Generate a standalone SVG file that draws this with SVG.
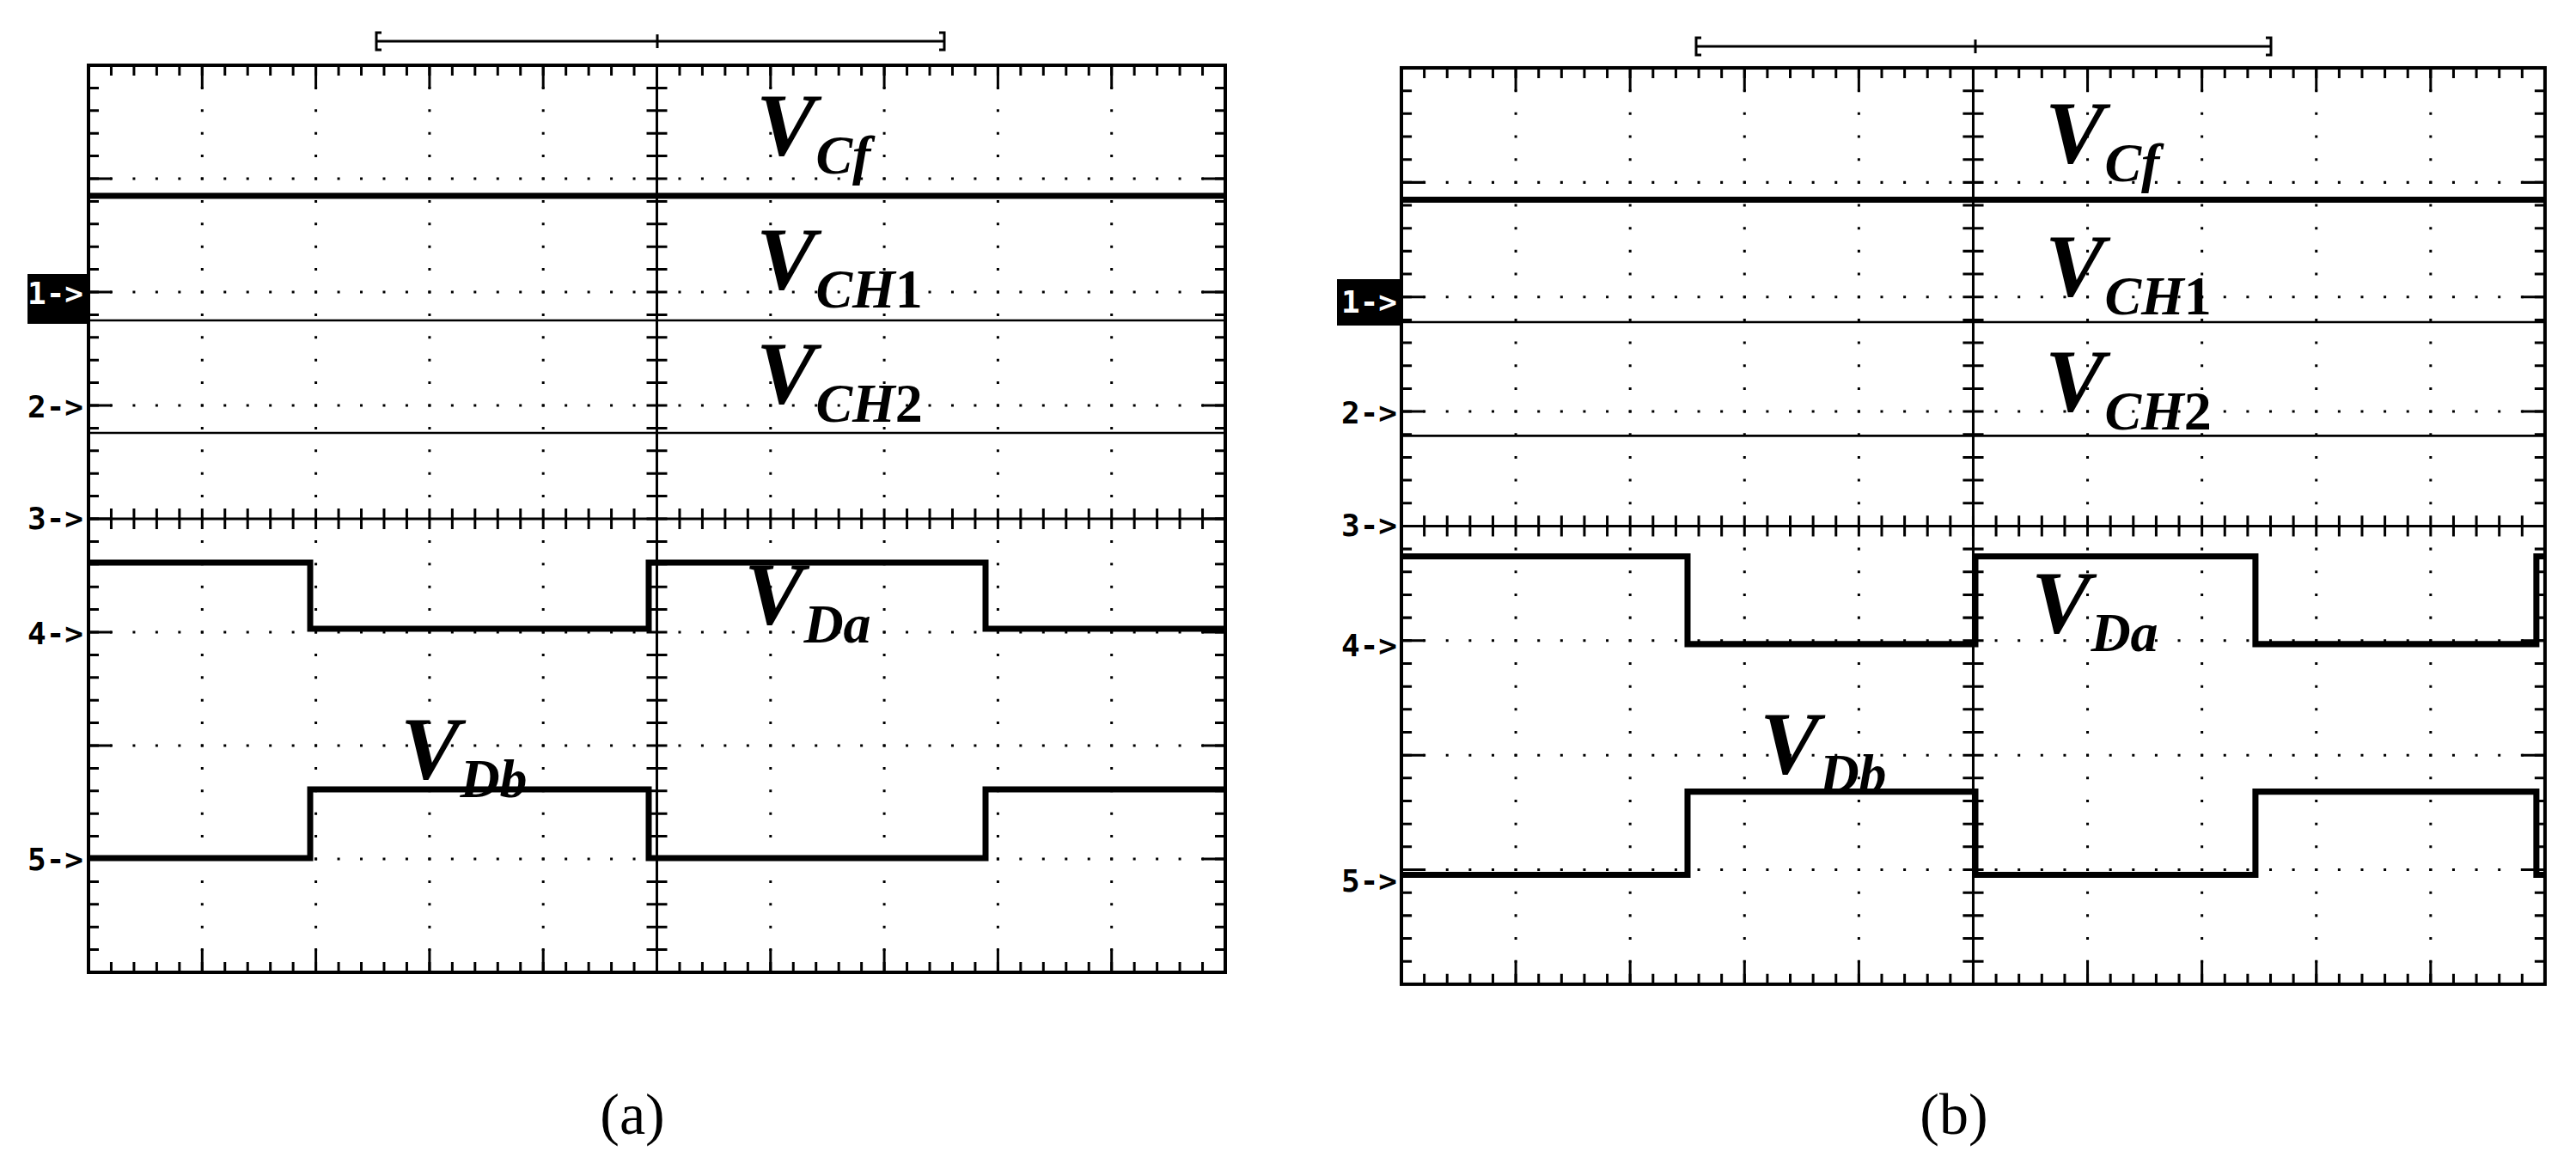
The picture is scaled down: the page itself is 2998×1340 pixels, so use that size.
<svg xmlns="http://www.w3.org/2000/svg" width="2998" height="1340" viewBox="0 0 2998 1340">
<style>
.bg{fill:#fff}
.frame{fill:none;stroke:#000;stroke-width:4}
.tk{stroke:#000;stroke-dasharray:3 23.46;stroke-dashoffset:1.5;fill:none}
.tkv{stroke:#000;stroke-dasharray:3 23.4;stroke-dashoffset:1.5;fill:none}
.mj{stroke:#000;stroke-dasharray:3 129.3;stroke-dashoffset:1.5;fill:none}
.mjv{stroke:#000;stroke-dasharray:3 129;stroke-dashoffset:1.5;fill:none}
.ax{stroke:#000;stroke-width:3}
.dot{stroke:#000;stroke-width:3;stroke-dasharray:3 23.4;stroke-dashoffset:1.5}
.doth{stroke:#000;stroke-width:3;stroke-dasharray:3 23.46;stroke-dashoffset:1.5}
.thick{fill:none;stroke:#000;stroke-width:7}
.thin{fill:none;stroke:#000;stroke-width:2.5}
.ch{font-family:"DejaVu Sans Mono",monospace;font-weight:bold;font-size:36px;text-anchor:end}
.v{font-family:"Liberation Serif",serif;font-style:italic;font-weight:bold;font-size:104px}
.s{font-size:64px}
.n{font-style:normal}
.cap{font-family:"Liberation Serif",serif;font-size:68px;text-anchor:middle}
</style>
<defs>
<g id="grid">
<rect class="frame" x="0" y="0" width="1323" height="1056"/>
<line class="tk" x1="0" y1="6" x2="1323" y2="6" stroke-width="12"/>
<line class="tk" x1="0" y1="1050" x2="1323" y2="1050" stroke-width="12"/>
<line class="tkv" x1="6" y1="0" x2="6" y2="1056" stroke-width="12"/>
<line class="tkv" x1="1317" y1="0" x2="1317" y2="1056" stroke-width="12"/>
<line class="mj" x1="0" y1="13.5" x2="1323" y2="13.5" stroke-width="27"/>
<line class="mj" x1="0" y1="1042.5" x2="1323" y2="1042.5" stroke-width="27"/>
<line class="mjv" x1="13.5" y1="0" x2="13.5" y2="1056" stroke-width="27"/>
<line class="mjv" x1="1309.5" y1="0" x2="1309.5" y2="1056" stroke-width="27"/>
<line class="ax" x1="661.5" y1="0" x2="661.5" y2="1056"/>
<line class="ax" x1="0" y1="528" x2="1323" y2="528"/>
<line class="tkv" x1="661.5" y1="0" x2="661.5" y2="1056" stroke-width="24"/>
<line class="tk" x1="0" y1="528" x2="1323" y2="528" stroke-width="24"/>
<line class="dot" x1="132.3" y1="0" x2="132.3" y2="1056"/>
<line class="dot" x1="264.6" y1="0" x2="264.6" y2="1056"/>
<line class="dot" x1="396.9" y1="0" x2="396.9" y2="1056"/>
<line class="dot" x1="529.2" y1="0" x2="529.2" y2="1056"/>
<line class="dot" x1="793.8" y1="0" x2="793.8" y2="1056"/>
<line class="dot" x1="926.1" y1="0" x2="926.1" y2="1056"/>
<line class="dot" x1="1058.4" y1="0" x2="1058.4" y2="1056"/>
<line class="dot" x1="1190.7" y1="0" x2="1190.7" y2="1056"/>
<line class="doth" x1="0" y1="132" x2="1323" y2="132"/>
<line class="doth" x1="0" y1="264" x2="1323" y2="264"/>
<line class="doth" x1="0" y1="396" x2="1323" y2="396"/>
<line class="doth" x1="0" y1="660" x2="1323" y2="660"/>
<line class="doth" x1="0" y1="792" x2="1323" y2="792"/>
<line class="doth" x1="0" y1="924" x2="1323" y2="924"/>
</g>
</defs>
<rect class="bg" width="2998" height="1340"/>

<g id="panel-a">
<g transform="translate(103,76)">
<use href="#grid"/>
<g id="traces-a">
<line class="thick" x1="0" y1="152" x2="1323" y2="152"/>
<line class="thin" x1="0" y1="297" x2="1323" y2="297"/>
<line class="thin" x1="0" y1="428" x2="1323" y2="428"/>
<polyline class="thick" points="0,579 258,579 258,656 652,656 652,579 1044,579 1044,656 1323,656"/>
<polyline class="thick" points="0,923 258,923 258,843 652,843 652,923 1044,923 1044,843 1323,843"/>
</g>
</g>
<path d="M444,38 h-6 v20 h6 M438,48 H1099 M1093,38 h6 v20 h-6 M765,40 v16" stroke="#000" stroke-width="3" fill="none"/>
<rect x="32" y="319" width="71" height="58" fill="#000"/>
<text class="ch" x="97" y="354" fill="#fff">1-&gt;</text>
<text class="ch" x="97" y="486">2-&gt;</text>
<text class="ch" x="97" y="616">3-&gt;</text>
<text class="ch" x="97" y="750">4-&gt;</text>
<text class="ch" x="97" y="1013">5-&gt;</text>
<text class="v" x="880" y="180">V<tspan class="s" dy="22">Cf</tspan></text>
<text class="v" x="880" y="336">V<tspan class="s" dy="22">CH<tspan class="n">1</tspan></tspan></text>
<text class="v" x="880" y="469">V<tspan class="s" dy="22">CH<tspan class="n">2</tspan></tspan></text>
<text class="v" x="866" y="726">V<tspan class="s" dy="22">Da</tspan></text>
<text class="v" x="466" y="906">V<tspan class="s" dy="22">Db</tspan></text>
<text class="cap" x="736" y="1320">(a)</text>
</g>

<g id="panel-b">
<g transform="translate(1631,79) scale(1.006,1.0103)">
<use href="#grid"/>
<g id="traces-b">
<line class="thick" x1="0" y1="152" x2="1323" y2="152"/>
<line class="thin" x1="0" y1="293" x2="1323" y2="293"/>
<line class="thin" x1="0" y1="424" x2="1323" y2="424"/>
<polyline class="thick" points="0,563 331,563 331,664 664,664 664,563 988,563 988,664 1313,664 1313,563 1323,563"/>
<polyline class="thick" points="0,930 331,930 331,834 664,834 664,930 988,930 988,834 1313,834 1313,930 1323,930"/>
</g>
</g>
<path d="M1980,44 h-6 v20 h6 M1974,54 H2643 M2637,44 h6 v20 h-6 M2299,46 v16" stroke="#000" stroke-width="3" fill="none"/>
<rect x="1556" y="325" width="75" height="54" fill="#000"/>
<text class="ch" x="1626" y="364" fill="#fff">1-&gt;</text>
<text class="ch" x="1626" y="493">2-&gt;</text>
<text class="ch" x="1626" y="624">3-&gt;</text>
<text class="ch" x="1626" y="764">4-&gt;</text>
<text class="ch" x="1626" y="1038">5-&gt;</text>
<text class="v" x="2380" y="189">V<tspan class="s" dy="22">Cf</tspan></text>
<text class="v" x="2380" y="344">V<tspan class="s" dy="22">CH<tspan class="n">1</tspan></tspan></text>
<text class="v" x="2380" y="478">V<tspan class="s" dy="22">CH<tspan class="n">2</tspan></tspan></text>
<text class="v" x="2364" y="736">V<tspan class="s" dy="22">Da</tspan></text>
<text class="v" x="2048" y="900">V<tspan class="s" dy="22">Db</tspan></text>
<text class="cap" x="2274" y="1320">(b)</text>
</g>
</svg>
